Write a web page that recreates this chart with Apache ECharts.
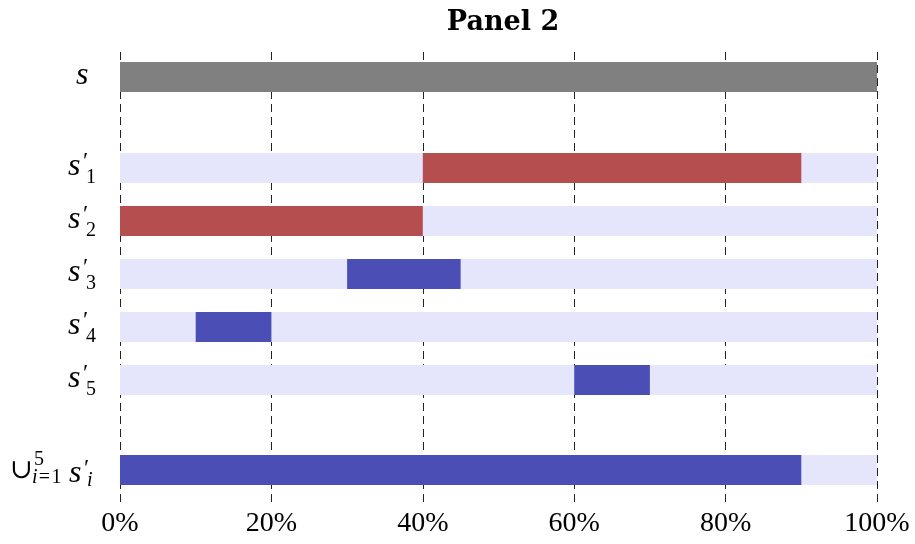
<!DOCTYPE html>
<html>
<head>
<meta charset="utf-8">
<script src="https://cdn.jsdelivr.net/npm/echarts@6/dist/echarts.min.js"></script>
<style>
  html, body { margin: 0; padding: 0; background: #fff; }
  #chart { width: 915px; height: 544px; }
</style>
</head>
<body>
<div id="chart"></div>
<script>
// Row layout (vertical position of each row, in row units)
const rowPos = [0, 1.72, 2.72, 3.72, 4.72, 5.72, 7.42];
// Row kinds: full sequence, five sub-sequences, their union
const rowKind = ['full', 'part', 'part', 'part', 'part', 'part', 'union'];
// Sub-sequence index for the s' rows
const subIndex = [null, '1', '2', '3', '4', '5', null];

// Highlighted interval of each s'_k row (percent)
const partStart = [40, 0, 30, 10, 60];
const partEnd = [90, 40, 45, 20, 70];
const partGroup = ['red', 'red', 'blue', 'blue', 'blue'];

// Full sequence span and union span (percent)
const fullSpan = [0, 100];
const unionSpan = [0, 90];

const xTicks = [0, 20, 40, 60, 80, 100];

const COLORS = {
  gray: '#808080',
  red: '#b54e4e',
  blue: '#4b4fb5',
  lavender: '#e5e5fc'
};
const BAR_H = 30;
const SERIF = '"Liberation Serif", "DejaVu Serif", serif';

// Build rectangle records: [start, end, rowPos, colorKey]
const rects = [];
rects.push([fullSpan[0], fullSpan[1], rowPos[0], 'gray']);
for (let k = 0; k < partStart.length; k++) {
  rects.push([0, 100, rowPos[k + 1], 'lavender']);
  rects.push([partStart[k], partEnd[k], rowPos[k + 1], partGroup[k]]);
}
rects.push([0, 100, rowPos[6], 'lavender']);
rects.push([unionSpan[0], unionSpan[1], rowPos[6], 'blue']);

function renderRect(params, api) {
  const a = api.coord([api.value(0), api.value(2)]);
  const b = api.coord([api.value(1), api.value(2)]);
  const key = rects[params.dataIndex][3];
  return {
    type: 'rect',
    shape: { x: a[0], y: a[1] - BAR_H / 2, width: b[0] - a[0], height: BAR_H },
    style: { fill: COLORS[key] }
  };
}

function txt(x, y, text, size, italic) {
  return {
    type: 'text',
    style: {
      x: x, y: y, text: text,
      font: (italic ? 'italic ' : '') + size + 'px ' + SERIF,
      fill: '#000',
      textAlign: 'left',
      textVerticalAlign: 'middle'
    }
  };
}

// Math-style row labels: s, s'_k, and the union symbol
function renderLabel(params, api) {
  const i = params.dataIndex;
  const p = api.coord([0, api.value(0)]);
  const x0 = p[0], y0 = p[1];
  const kind = rowKind[i];
  const children = [];
  if (kind === 'full') {
    children.push(txt(x0 - 44, y0 - 1, 's', 32, true));
  } else if (kind === 'part') {
    children.push(txt(x0 - 52, y0 - 1, 's', 32, true));
    children.push(txt(x0 - 37, y0 - 6, '\u2032', 24, false));
    children.push(txt(x0 - 34, y0 + 10, subIndex[i], 20, false));
  } else {
    children.push(txt(x0 - 110, y0 + 1, '\u222A', 27, false));
    children.push(txt(x0 - 86, y0 - 10, '5', 20, false));
    children.push(txt(x0 - 88, y0 + 8, 'i', 20, true));
    children.push(txt(x0 - 83, y0 + 8, '\u200A=\u200A1', 20, false));
    children.push(txt(x0 - 51, y0 + 4, 's', 32, true));
    children.push(txt(x0 - 36, y0 - 1, '\u2032', 24, false));
    children.push(txt(x0 - 33, y0 + 11, 'i', 20, true));
  }
  return { type: 'group', children: children };
}

const chart = echarts.init(document.getElementById('chart'), null, { renderer: 'canvas' });
chart.setOption({
  animation: false,
  backgroundColor: '#fff',
  title: {
    text: 'Panel 2',
    left: 498,
    textAlign: 'center',
    top: 4,
    textStyle: { fontFamily: '"DejaVu Serif", serif', fontWeight: 'bold', fontSize: 27, color: '#000' }
  },
  grid: { left: 120, right: 38, top: 52, bottom: 39 },
  xAxis: {
    type: 'value',
    min: 0, max: 100, interval: 20,
    axisLine: { show: false },
    axisTick: { show: false },
    axisLabel: {
      margin: 5,
      fontFamily: SERIF, fontSize: 28, color: '#000',
      customValues: xTicks,
      formatter: v => v + '%'
    },
    splitLine: {
      show: true,
      lineStyle: { color: '#222', width: 1, type: [8, 5] }
    }
  },
  yAxis: {
    type: 'value',
    inverse: true,
    min: -0.47, max: 8.08,
    show: false,
    splitLine: { show: false }
  },
  series: [
    {
      type: 'custom',
      renderItem: renderRect,
      encode: { x: [0, 1], y: 2 },
      data: rects.map(r => [r[0], r[1], r[2]]),
      silent: true
    },
    {
      type: 'custom',
      renderItem: renderLabel,
      encode: { y: 0 },
      data: rowPos.map(v => [v]),
      clip: false,
      silent: true
    }
  ]
});
</script>
</body>
</html>
